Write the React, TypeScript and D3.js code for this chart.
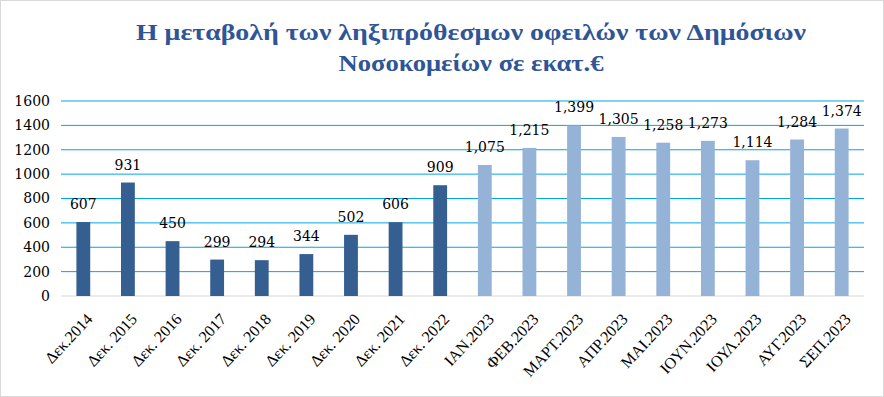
import React from 'react';
import * as d3 from 'd3';

const categories = [
  'Δεκ.2014', 'Δεκ. 2015', 'Δεκ. 2016', 'Δεκ. 2017', 'Δεκ. 2018', 'Δεκ. 2019',
  'Δεκ. 2020', 'Δεκ. 2021', 'Δεκ. 2022', 'ΙΑΝ.2023', 'ΦΕΒ.2023', 'ΜΑΡΤ.2023',
  'ΑΠΡ.2023', 'ΜΑΙ.2023', 'ΙΟΥΝ.2023', 'ΙΟΥΛ.2023', 'ΑΥΓ.2023', 'ΣΕΠ.2023',
];
const values = [607, 931, 450, 299, 294, 344, 502, 606, 909, 1075, 1215, 1399, 1305, 1258, 1273, 1114, 1284, 1374];
const labels = ['607', '931', '450', '299', '294', '344', '502', '606', '909', '1,075', '1,215', '1,399', '1,305', '1,258', '1,273', '1,114', '1,284', '1,374'];
const yTicks = [0, 200, 400, 600, 800, 1000, 1200, 1400, 1600];

const W = 884;
const H = 397;
const left = 61;
const right = 864;
const top = 101;
const bottom = 296;

export default function App() {
  const x = d3.scaleBand<string>().domain(categories).range([left, right]).paddingInner(0.69).paddingOuter(0.345);
  const y = d3.scaleLinear().domain([0, 1600]).range([bottom, top]);

  return (
    <svg width={W} height={H} style={{ position: 'absolute', left: 0, top: 0 }}>
      <rect x={0.5} y={0.5} width={W - 1} height={H - 1} fill="#fff" stroke="#d9d9d9" />
      <g fontFamily="'Liberation Serif', serif" fontWeight="bold" fill="#2f5597" fontSize={24} textAnchor="middle">
        <text x={471} y={40} textLength={670} lengthAdjust="spacingAndGlyphs">Η μεταβολή των ληξιπρόθεσμων οφειλών των Δημόσιων</text>
        <text x={471} y={71} textLength={265} lengthAdjust="spacingAndGlyphs">Νοσοκομείων σε εκατ.€</text>
      </g>
      {yTicks.map((t) => (
        <g key={t}>
          {t > 0 && <line x1={left} x2={right} y1={y(t)} y2={y(t)} stroke="#00a6e6" strokeWidth={1} />}
          <text x={50} y={y(t)} dy="0.35em" textAnchor="end" fontFamily="'DejaVu Serif', serif" fontSize={14} fill="#000">{t}</text>
        </g>
      ))}
      <line x1={left} x2={right} y1={bottom} y2={bottom} stroke="#d9d9d9" />
      {categories.map((c, i) => (
        <g key={c}>
          <rect x={x(c)} y={y(values[i])} width={x.bandwidth()} height={bottom - y(values[i])} fill={i < 9 ? '#365f91' : '#95b3d7'} />
          <text x={x(c)! + x.bandwidth() / 2} y={y(values[i]) - 13} textAnchor="middle" fontFamily="'DejaVu Serif', serif" fontSize={14} fill="#000">{labels[i]}</text>
          <text transform={`translate(${x(c)! + x.bandwidth() / 2 + 6},${bottom + 20}) rotate(-47)`} textAnchor="end" dy="0.35em" fontFamily="'Liberation Serif', serif" fontSize={16} fill="#000">{c}</text>
        </g>
      ))}
    </svg>
  );
}
